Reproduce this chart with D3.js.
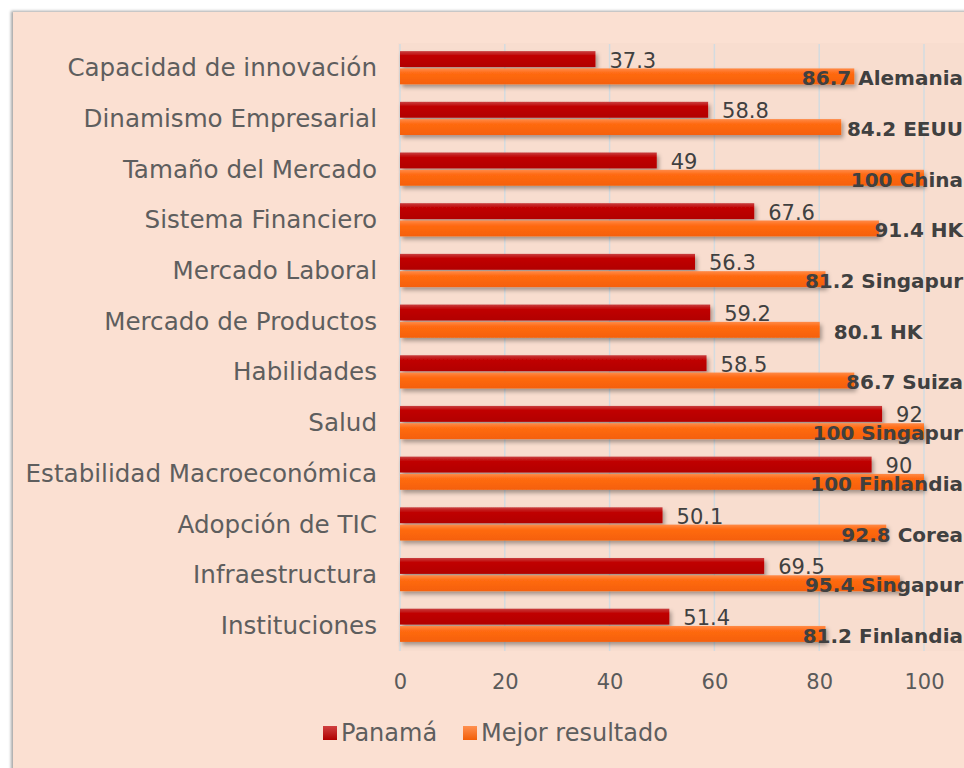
<!DOCTYPE html>
<html><head><meta charset="utf-8">
<script src="https://cdn.jsdelivr.net/npm/d3@7"></script>
<style>
html,body{margin:0;padding:0;background:#fff;}
svg{display:block;}
</style></head>
<body>
<svg id="chart" width="964" height="768"></svg>
<script>
const categories = ["Capacidad de innovación","Dinamismo Empresarial","Tamaño del Mercado","Sistema Financiero","Mercado Laboral","Mercado de Productos","Habilidades","Salud","Estabilidad Macroeconómica","Adopción de TIC","Infraestructura","Instituciones"];
const panama = [37.3,58.8,49,67.6,56.3,59.2,58.5,92,90,50.1,69.5,51.4];
const mejor = [86.7,84.2,100,91.4,81.2,80.1,86.7,100,100,92.8,95.4,81.2];
const mejorPais = ["Alemania","EEUU","China","HK","Singapur","HK","Suiza","Singapur","Finlandia","Corea","Singapur","Finlandia"];
const xTicks = [0,20,40,60,80,100];
const seriesNames = ["Panamá","Mejor resultado"];

const W = 964, H = 768;
const FONT = "'DejaVu Sans', sans-serif";
const svg = d3.select("#chart");
const defs = svg.append("defs");

function grad(id, stops){
  const g = defs.append("linearGradient").attr("id", id).attr("x1",0).attr("y1",0).attr("x2",0).attr("y2",1);
  stops.forEach(s => g.append("stop").attr("offset", s[0]).attr("stop-color", s[1]));
}
grad("gRed", [[0,"#c84040"],[0.3,"#c00000"],[1,"#b20000"]]);
grad("gOrg", [[0,"#ff8a48"],[0.3,"#ff6a12"],[1,"#f56008"]]);
grad("gRedL", [[0,"#d04040"],[1,"#b00000"]]);
grad("gOrgL", [[0,"#ff9050"],[1,"#f25e08"]]);
const f = defs.append("filter").attr("id","shadow").attr("x","-5%").attr("y","-30%").attr("width","115%").attr("height","190%");
f.append("feDropShadow").attr("dx",2).attr("dy",3).attr("stdDeviation",2).attr("flood-color","#000").attr("flood-opacity",0.35);
const pf = defs.append("filter").attr("id","pshadow").attr("x","-5%").attr("y","-5%").attr("width","110%").attr("height","110%");
pf.append("feDropShadow").attr("dx",-2).attr("dy",-1).attr("stdDeviation",1.5).attr("flood-color","#000").attr("flood-opacity",0.35);

// panel
svg.append("rect").attr("x",13).attr("y",12).attr("width",W).attr("height",H).attr("fill","#fbe0d2").attr("filter","url(#pshadow)");

const x = d3.scaleLinear().domain([0,100]).range([400,924]);
const y = d3.scaleBand().domain(categories).range([42.5,650.5]).paddingInner(0.345).paddingOuter(0.17);
const sub = d3.scaleBand().domain(seriesNames).range([0,y.bandwidth()]).paddingInner(0.08);

// plot area
svg.append("rect").attr("x",x(0)-2).attr("y",43).attr("width",W).attr("height",608).attr("fill","#f8ddcf");

// grid
svg.append("g").selectAll("line").data(xTicks).join("line")
  .attr("x1",d=>x(d)).attr("x2",d=>x(d)).attr("y1",44).attr("y2",651)
  .attr("stroke","#d3dbe0").attr("stroke-width",1.5);

// x axis labels
const xAxis = d3.axisBottom(x).tickValues(xTicks).tickSize(0).tickPadding(0);
const gx = svg.append("g").attr("transform","translate(0,682)").call(xAxis);
gx.select(".domain").remove();
gx.selectAll("text").attr("font-family",FONT).attr("font-size",21).attr("fill","#5a5a5a").attr("dy","0.35em");

// y axis labels
const yAxis = d3.axisLeft(y).tickSize(0).tickPadding(0);
const gy = svg.append("g").attr("transform","translate(377,0)").call(yAxis);
gy.select(".domain").remove();
gy.selectAll("text").attr("font-family",FONT).attr("font-size",24.6).attr("fill","#5e5e5e").attr("dy","0.35em");

const rows = categories.map((c,i)=>({c, p:panama[i], m:mejor[i], pais:mejorPais[i]}));

// bars
const gb = svg.append("g");
gb.selectAll("rect.p").data(rows).join("rect").attr("class","p")
  .attr("x",x(0)).attr("y",d=>y(d.c)+sub("Panamá")).attr("width",d=>x(d.p)-x(0)).attr("height",sub.bandwidth())
  .attr("fill","url(#gRed)").attr("filter","url(#shadow)");
gb.selectAll("rect.m").data(rows).join("rect").attr("class","m")
  .attr("x",x(0)).attr("y",d=>y(d.c)+sub("Mejor resultado")).attr("width",d=>x(d.m)-x(0)).attr("height",sub.bandwidth())
  .attr("fill","url(#gOrg)").attr("filter","url(#shadow)");

// labels panama
svg.append("g").selectAll("text").data(rows).join("text")
  .attr("x",d=>x(d.p)+14).attr("y",d=>y(d.c)+sub("Panamá")+sub.bandwidth()+0.5)
  .attr("font-family",FONT).attr("font-size",21).attr("fill","#404040")
  .text(d=>d.p);

// labels mejor
const lm = svg.append("g").selectAll("text").data(rows).join("text")
  .attr("y",d=>y(d.c)+sub("Mejor resultado")+sub.bandwidth()+1)
  .attr("font-family",FONT).attr("font-size",20).attr("font-weight","bold").attr("fill","#404040")
  .text(d=>d.m+" "+d.pais);
lm.each(function(d){
  const w = this.getComputedTextLength();
  const xs = Math.min(x(d.m)+14, W-1-w);
  d3.select(this).attr("x", xs);
});

// legend
const lg = svg.append("g").attr("transform","translate(323,733)");
const legItems = [{n:"Panamá",f:"url(#gRedL)",x:0},{n:"Mejor resultado",f:"url(#gOrgL)",x:140}];
const li = lg.selectAll("g").data(legItems).join("g").attr("transform",d=>`translate(${d.x},0)`);
li.append("rect").attr("x",0).attr("y",-7).attr("width",14).attr("height",14).attr("fill",d=>d.f);
li.append("text").attr("x",18).attr("dy","0.35em").attr("font-family",FONT).attr("font-size",24).attr("fill","#5e5e5e").text(d=>d.n);
</script>
</body></html>
